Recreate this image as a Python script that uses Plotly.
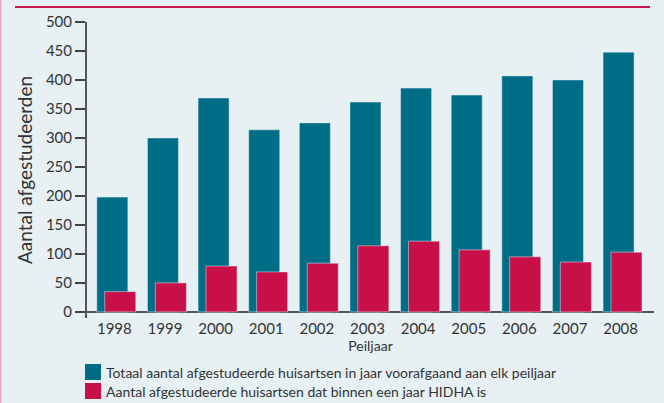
import plotly.graph_objects as go

years = ["1998", "1999", "2000", "2001", "2002", "2003", "2004", "2005", "2006", "2007", "2008"]
totaal = [198, 300, 369, 314, 326, 362, 386, 374, 407, 400, 448]
hidha = [35, 50, 79, 69, 84, 114, 122, 107, 95, 86, 103]
series_names = [
    "Totaal aantal afgestudeerde huisartsen in jaar voorafgaand aan elk peiljaar",
    "Aantal afgestudeerde huisartsen dat binnen een jaar HIDHA is",
]
colors = ["#006d87", "#c80f48"]
y_ticks = [0, 50, 100, 150, 200, 250, 300, 350, 400, 450, 500]

FONT = "Lato"
BG = "#e7f0f3"

fig = go.Figure()
fig.add_trace(go.Bar(x=years, y=totaal, name=series_names[0], marker_color=colors[0],
                     offset=-0.346, width=0.613, showlegend=False))
fig.add_trace(go.Bar(x=years, y=hidha, name=series_names[1], marker_color=colors[1],
                     offset=-0.19, width=0.613, showlegend=False))

fig.update_layout(
    width=664, height=403,
    margin=dict(l=87, r=10, t=22, b=85, autoexpand=False),
    paper_bgcolor=BG, plot_bgcolor=BG,
    barmode="overlay",
    font=dict(family=FONT, color="#333333", size=15),
    xaxis=dict(
        type="category", range=[-0.54, 10.66], automargin=False,
        showline=False, ticks="", showgrid=False,
        tickfont=dict(size=15, color="#333333"),
        title=dict(text="Peiljaar", font=dict(size=14, color="#333333"), standoff=2),
    ),
    yaxis=dict(
        range=[-10.5, 500], tickvals=y_ticks, automargin=False,
        showline=True, linecolor="#555555", linewidth=2,
        ticks="outside", ticklen=10, tickwidth=2, tickcolor="#444444",
        showgrid=False, zeroline=True, zerolinecolor="#555555", zerolinewidth=2,
        tickfont=dict(size=15, color="#333333"),
        title=dict(text="Aantal afgestudeerden", font=dict(size=19, color="#333333"), standoff=8),
    ),
)

# decorative top rule and left border
fig.add_shape(type="line", xref="paper", yref="paper", x0=(15-87)/567, x1=(650-87)/567,
              y0=1 + (22-7)/296, y1=1 + (22-7)/296, line=dict(color="#c8174c", width=2))
fig.add_shape(type="line", xref="paper", yref="paper", x0=(0.5-87)/567, x1=(0.5-87)/567,
              y0=-85/296, y1=1 + 22/296, line=dict(color="#e2a6b8", width=1.5))

# manual legend
for i, (name, col) in enumerate(zip(series_names, colors)):
    yc = 372 + i * 19
    fig.add_shape(type="rect", xref="paper", yref="paper",
                  x0=(85-87)/567, x1=(101-87)/567,
                  y0=(318 - (yc + 8)) / 296, y1=(318 - (yc - 8)) / 296,
                  fillcolor=col, line=dict(width=0))
    fig.add_annotation(xref="paper", yref="paper", x=(104-87)/567, y=(318 - yc)/296,
                       text=name, showarrow=False, xanchor="left", yanchor="middle",
                       font=dict(size=14, color="#333333", family=FONT))

fig.write_html("out.html", config={"displayModeBar": False},
               post_script="document.body.style.margin='0';document.body.style.overflow='hidden';")
